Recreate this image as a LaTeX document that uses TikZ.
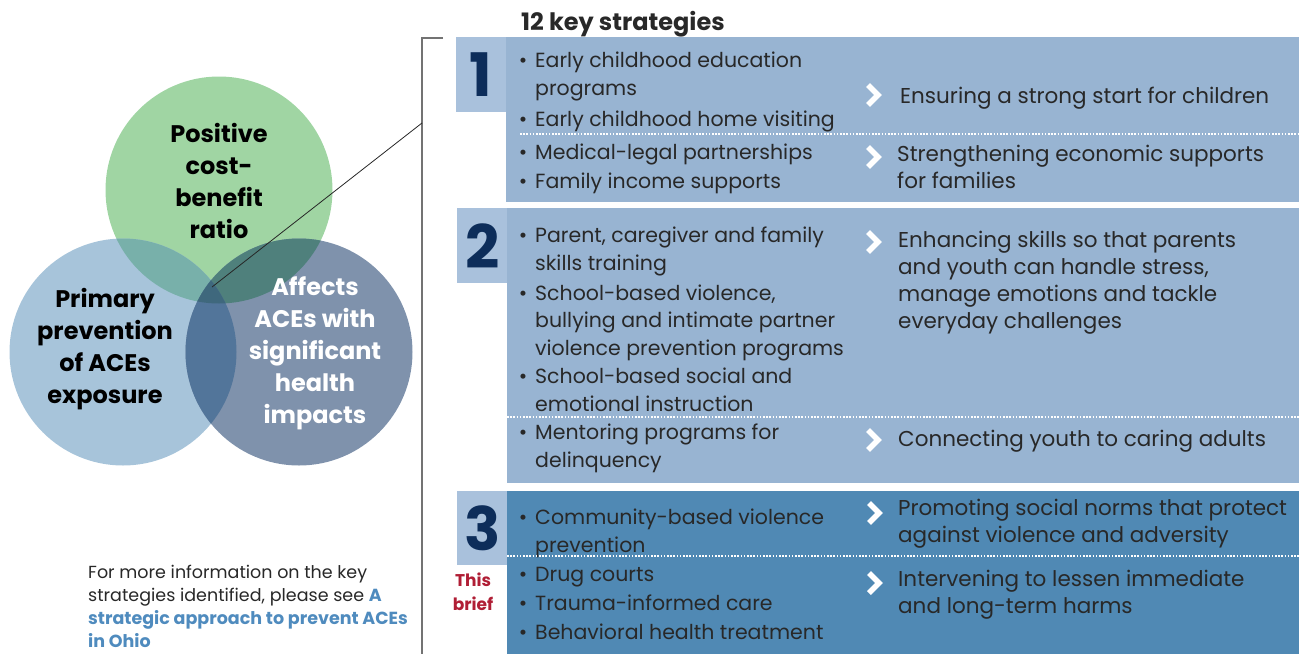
\documentclass[tikz,border=0pt]{standalone}
\usepackage{fontspec}
\setmainfont{Poppins}
\usetikzlibrary{positioning,calc}

\definecolor{greenring}{RGB}{160,213,163}
\definecolor{paleblue}{RGB}{167,196,218}
\definecolor{slateblue}{RGB}{127,146,172}
\definecolor{greenpale}{RGB}{120,176,170}
\definecolor{greenslate}{RGB}{79,128,124}
\definecolor{paleslate}{RGB}{82,117,154}
\definecolor{allthree}{RGB}{63,104,125}
\definecolor{panelblue}{RGB}{152,180,210}
\definecolor{tabblue}{RGB}{169,193,220}
\definecolor{deepblue}{RGB}{80,137,180}
\definecolor{navy}{RGB}{13,45,90}
\definecolor{ink}{RGB}{40,40,40}
\definecolor{linkblue}{RGB}{79,139,190}
\definecolor{briefred}{RGB}{176,30,53}

\newcommand{\bul}{\llap{\textbullet\hspace{8pt}}}

\begin{document}
\begin{tikzpicture} [
    x=1pt, y=-1pt,
    ring/.style     = { circle, minimum size=227pt, inner sep=0pt },
    ringtext/.style = { font=\fontsize{24}{32}\selectfont\bfseries,
                        align=center, inner sep=0pt, anchor=base },
    tab/.style      = { fill=tabblue, minimum width=50pt, minimum height=75pt,
                        anchor=north west, inner sep=0pt, text=navy,
                        font=\fontsize{60}{60}\selectfont\bfseries },
    item/.style     = { font=\fontsize{20.5}{27.5}\selectfont, text=ink,
                        align=left, anchor=base west, inner sep=0pt },
    goal/.style     = { item, font=\fontsize{21.5}{27}\selectfont },
    sep/.style      = { white, line width=1.5pt, dash pattern=on 1.5pt off 1.7pt },
    bracket/.style  = { draw=black!55, line width=1.2pt },
    leader/.style   = { draw=black!85, line width=0.8pt },
    chev/.pic       = { \draw[white, line width=5.5pt, miter limit=10] (-5,-10) -- (5,0) -- (-5,10); },
  ]
  \useasboundingbox (0,0) rectangle (1299,654);

  % the three rings
  \node[ring, fill=greenring] (cost) at (219,190) {};
  \node[ring, fill=paleblue]  (prev) at (123,352) {};
  \node[ring, fill=slateblue] (aces) at (299,352) {};
  \begin{scope}
    \clip (cost.center) circle (113.5);
    \fill[greenpale] (prev.center) circle (113.5);
    \fill[greenslate] (aces.center) circle (113.5);
  \end{scope}
  \begin{scope}
    \clip (prev.center) circle (113.5);
    \fill[paleslate] (aces.center) circle (113.5);
    \clip (cost.center) circle (113.5);
    \fill[allthree] (aces.center) circle (113.5);
  \end{scope}

  % (multi-line nodes sit on the baseline of their last line)
  \node[ringtext] (costtxt) at (219,238) {Positive\\cost-\\benefit\\ratio};
  \node[ringtext] (prevtxt) at (105,403) {Primary\\prevention\\of ACEs\\exposure};
  \node[ringtext, text=white] (acestxt) at (315,423) {Affects\\ACEs with\\significant\\health\\impacts};

  % bracket and pointer
  \coordinate (btop) at (443,38);
  \coordinate (bcorner) at (422,38);
  \coordinate (bfoot) at (422,654);
  \coordinate (hub) at (212,287);
  \coordinate (reach) at (422,123);
  \draw[bracket] (btop) -- (bcorner) -- (bfoot);
  \draw[leader] (hub) -- (reach);

  \node[anchor=base west, inner sep=0pt, text=ink,
        font=\fontsize{24}{28}\selectfont\bfseries] (title) at (521,30) {12 key strategies};

  % strategy 1
  \fill[panelblue] (506,37) rectangle (1299,202);
  \node[tab] (tab1) at (456,37) {1};
  \node[item] (e1) at (535,95) {\bul Early childhood education\\programs};
  \node[item] (e2) at (535,126) {\bul Early childhood home visiting};
  \node[item] (e3) at (535,159) {\bul Medical-legal partnerships};
  \node[item] (e4) at (535,188) {\bul Family income supports};
  \draw[sep] (520,134) -- (1299,134);
  \pic at (873,95) {chev};
  \pic at (873,157) {chev};
  \node[goal] (g1) at (900,103) {Ensuring a strong start for children};
  \node[goal] (g2) at (897,188) {Strengthening economic supports\\for families};

  % strategy 2
  \fill[panelblue] (507,208) rectangle (1299,483);
  \node[tab] (tab2) at (457,208) {2};
  \node[item] (e5) at (535,270) {\bul Parent, caregiver and family\\skills training};
  \node[item] (e6) at (535,355) {\bul School-based violence,\\bullying and intimate partner\\violence prevention programs};
  \node[item] (e7) at (535,411) {\bul School-based social and\\emotional instruction};
  \node[item] (e8) at (535,467) {\bul Mentoring programs for\\delinquency};
  \draw[sep] (507,417) -- (1299,417);
  \pic at (873,242) {chev};
  \pic at (873,440) {chev};
  \node[goal] (g3) at (898,328) {Enhancing skills so that parents\\and youth can handle stress,\\manage emotions and tackle\\everyday challenges};
  \node[goal] (g4) at (898,446) {Connecting youth to caring adults};

  % strategy 3
  \fill[deepblue] (507,491) rectangle (1299,654);
  \node[tab, minimum height=74pt] (tab3) at (457,491) {3};
  \node[anchor=base, align=center, inner sep=0pt, text=briefred,
        font=\fontsize{17}{24}\selectfont\bfseries] (brief) at (473,610) {This\\brief};
  \begin{scope}[every node/.append style={text=white}]
    \node[item] (e9) at (535,552) {\bul Community-based violence\\prevention};
    \node[item] (e10) at (535,581) {\bul Drug courts};
    \node[item] (e11) at (535,610) {\bul Trauma-informed care};
    \node[item] (e12) at (535,639) {\bul Behavioral health treatment};
    \node[goal] (g5) at (898,542) {Promoting social norms that protect\\against violence and adversity};
    \node[goal] (g6) at (898,613) {Intervening to lessen immediate\\and long-term harms};
  \end{scope}
  \draw[sep] (507,556) -- (1299,556);
  \pic at (874,513) {chev};
  \pic at (874,583) {chev};

  % pointer to the full report
  \node[anchor=base west, align=left, inner sep=0pt, text=ink,
        font=\fontsize{17.5}{23}\selectfont] (more) at (88,647)
        {For more information on the key\\strategies identified, please see {\bfseries\color{linkblue}A}\\{\bfseries\color{linkblue}strategic approach to prevent ACEs}\\{\bfseries\color{linkblue}in Ohio}};
\end{tikzpicture}
\end{document}
